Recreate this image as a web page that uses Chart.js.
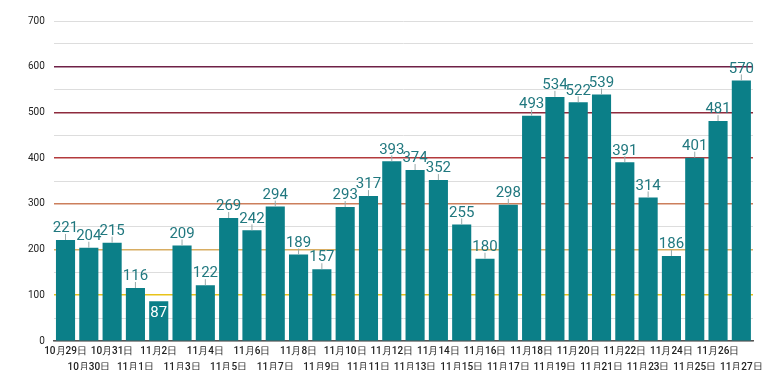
<!DOCTYPE html>
<html>
<head>
<meta charset="utf-8">
<script src="https://cdn.jsdelivr.net/npm/chart.js@4"></script>
<style>
  html, body { margin: 0; padding: 0; background: #fff; }
  #wrap { width: 780px; height: 390px; }
</style>
</head>
<body>
<div id="wrap"><canvas id="chart"></canvas></div>
<script>
const labels = ['10月29日','10月30日','10月31日','11月1日','11月2日','11月3日','11月4日','11月5日','11月6日','11月7日',
  '11月8日','11月9日','11月10日','11月11日','11月12日','11月13日','11月14日','11月15日','11月16日','11月17日',
  '11月18日','11月19日','11月20日','11月21日','11月22日','11月23日','11月24日','11月25日','11月26日','11月27日']
const counts = [221,204,215,116,87,209,122,269,242,294,189,157,293,317,393,374,352,255,180,298,493,534,522,539,391,314,186,401,481,570]
const yTicks = [0,100,200,300,400,500,600,700]

const lineColors = {
  100: '#e8c31a',
  200: '#d8ad62',
  300: '#cc7f5c',
  400: '#b33a3c',
  500: '#8e2b3d',
  600: '#6f2147'
}

// value labels with a little connector line above each bar
const valueLabels = {
  id: 'valueLabels',
  afterDatasetsDraw(chart) {
    const ctx = chart.ctx
    const meta = chart.getDatasetMeta(0)
    ctx.save()
    ctx.font = '15px Roboto'
    ctx.textAlign = 'center'
    meta.data.forEach((bar, i) => {
      const v = counts[i]
      if (v < 100) {
        ctx.fillStyle = '#ffffff'
        ctx.textBaseline = 'top'
        ctx.fillText(String(v), bar.x, bar.y + 5)
        return
      }
      ctx.strokeStyle = '#9aa'
      ctx.lineWidth = 1
      ctx.beginPath()
      ctx.moveTo(bar.x, bar.y)
      ctx.lineTo(bar.x, bar.y - 6)
      ctx.stroke()
      ctx.fillStyle = '#21787f'
      ctx.textBaseline = 'bottom'
      ctx.fillText(String(v), bar.x, bar.y - 4)
    })
    ctx.restore()
  }
}

new Chart(document.getElementById('chart'), {
  type: 'bar',
  data: {
    labels: labels,
    datasets: [{
      data: counts,
      backgroundColor: '#0b7f88',
      categoryPercentage: 0.82,
      barPercentage: 1
    }]
  },
  options: {
    responsive: true,
    maintainAspectRatio: false,
    animation: false,
    layout: { padding: { left: 19, right: 27, top: 21, bottom: 20 } },
    plugins: {
      legend: { display: false },
      tooltip: { enabled: false }
    },
    scales: {
      x: {
        grid: { display: false },
        border: { color: '#555', width: 1.5 },
        ticks: {
          autoSkip: false,
          maxRotation: 0,
          padding: -5,
          color: '#222',
          font: { family: 'Roboto', size: 10, weight: '500', lineHeight: 1.55 },
          callback: (val, i) => i % 2 === 0 ? labels[i] : ['', labels[i]]
        }
      },
      y: {
        min: 0,
        max: yTicks[yTicks.length - 1],
        border: { display: false },
        ticks: {
          stepSize: 50,
          padding: 9,
          color: '#222',
          font: { family: 'Roboto', size: 10 },
          callback: v => yTicks.includes(v) ? v : ''
        },
        grid: {
          drawTicks: false,
          color: c => lineColors[c.tick.value] || '#dddddd',
          lineWidth: c => lineColors[c.tick.value] ? 1.6 : 1
        }
      }
    }
  },
  plugins: [valueLabels]
})
</script>
</body>
</html>
